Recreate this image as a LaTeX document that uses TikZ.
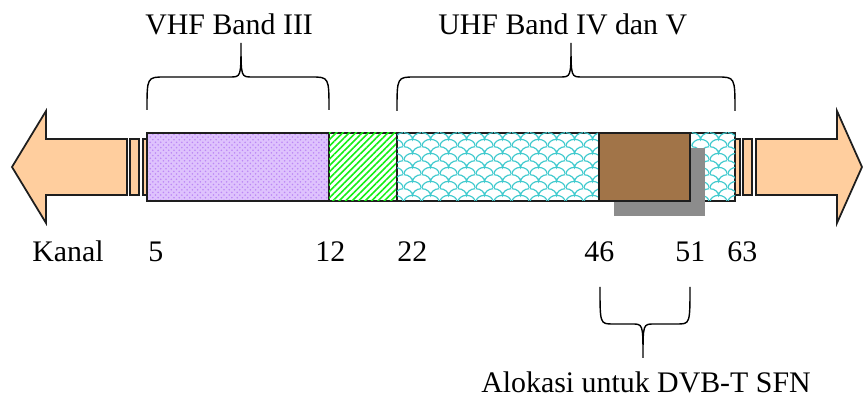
\documentclass[tikz,border=0pt]{standalone}
\usepackage{fontspec}
\setmainfont{Liberation Serif}
\usetikzlibrary{calc, arrows, patterns, patterns.meta, positioning}

\definecolor{cPeach}{RGB}{255,206,158}
\definecolor{cLavender}{RGB}{222,194,253}
\definecolor{cLavenderDot}{RGB}{188,136,245}
\definecolor{cHatchGreen}{RGB}{20,240,20}
\definecolor{cScaleCyan}{RGB}{64,202,206}
\definecolor{cBrown}{RGB}{161,116,72}
\definecolor{cShadow}{RGB}{140,140,140}
\definecolor{cEdge}{RGB}{30,30,30}

% fish scales for the UHF part of the band
\pgfdeclarepatternformonly{scales}{\pgfpointorigin}{\pgfpoint{10pt}{8pt}}{\pgfpoint{10pt}{8pt}}{
    \pgfsetlinewidth{0.7pt}
    \pgfpathmoveto{\pgfpoint{0pt}{0pt}}
    \pgfpathcurveto{\pgfpoint{0pt}{2.2pt}}{\pgfpoint{2.24pt}{4pt}}{\pgfpoint{5pt}{4pt}}
    \pgfpathcurveto{\pgfpoint{7.76pt}{4pt}}{\pgfpoint{10pt}{2.2pt}}{\pgfpoint{10pt}{0pt}}
    \pgfpathmoveto{\pgfpoint{0pt}{8pt}}
    \pgfpathcurveto{\pgfpoint{2.76pt}{8pt}}{\pgfpoint{5pt}{5.8pt}}{\pgfpoint{5pt}{4pt}}
    \pgfpathcurveto{\pgfpoint{5pt}{5.8pt}}{\pgfpoint{7.24pt}{8pt}}{\pgfpoint{10pt}{8pt}}
    \pgfusepath{stroke}
}

\begin{document}
\begin{tikzpicture}[x=0.02cm, y=-0.02cm,
    edgeLine/.style={draw=cEdge, line width=1pt},
    braceLine/.style={draw=black, line width=0.8pt},
    bandLabel/.style={inner sep=0pt, font=\fontsize{17}{20}\selectfont}]

\useasboundingbox (0,0) rectangle (863,398);

\newcommand{\drawCurlyBrace}[7]{
    \coordinate (cLeftPt) at (#1,#4);
    \coordinate (cRightPt) at (#2,#4);
    \coordinate (cTipPt) at (#3,#6);
    \draw[braceLine] (cLeftPt) .. controls (#1,#5) .. (#1+#7,#5) -- (#3-11,#5)
        .. controls (#3,#5) .. (cTipPt) .. controls (#3,#5) .. (#3+11,#5)
        -- (#2-#7,#5) .. controls (#2,#5) .. (cRightPt);
}

% arrows on both sides
\draw[edgeLine, fill=cPeach] (12,167) -- (46,111) -- (46,139) -- (127,139)
    -- (127,195) -- (46,195) -- (46,223) -- cycle;
\draw[edgeLine, fill=cPeach] (130,139) rectangle (139,195);
\draw[edgeLine, fill=cPeach] (143,139) rectangle (152,195);

\draw[edgeLine, fill=cPeach] (862,167) -- (837,111) -- (837,139) -- (756,139)
    -- (756,195) -- (837,195) -- (837,223) -- cycle;
\draw[edgeLine, fill=cPeach] (743,139) rectangle (752,195);
\draw[edgeLine, fill=cPeach] (730,139) rectangle (740,195);

% the band
\draw[edgeLine, preaction={fill=cLavender}, pattern=crosshatch dots, pattern color=cLavenderDot]
    (147,133) rectangle (329,201);
\draw[edgeLine, fill=white,
      postaction={pattern={Lines[angle=45, distance=2.6pt, line width=0.9pt]}, pattern color=cHatchGreen}]
    (329,133) rectangle (397,201);
\draw[edgeLine, fill=white, postaction={pattern=scales, pattern color=cScaleCyan}]
    (397,133) rectangle (735,201);

\fill[cShadow] (614,148) rectangle (705,216);
\draw[edgeLine, fill=cBrown] (599,133) rectangle (690,201);

% braces
\drawCurlyBrace{147}{329}{241}{110}{77}{43}{18}
\drawCurlyBrace{397}{735}{571}{111}{77}{43}{18}
\drawCurlyBrace{600}{690}{643}{287}{324}{358}{13}

% labels
\node[bandLabel, anchor=base west] (nVhfTxt) at (145,35) {VHF Band III};
\node[bandLabel, anchor=base west] (nUhfTxt) at (438,35) {UHF Band IV dan V};
\node[bandLabel, anchor=base west] (nKanalTxt) at (32,262) {Kanal};
\foreach \x/\k in {148/5, 315/12, 397/22, 584/46, 675/51, 727/63}
{
    \node[bandLabel, anchor=base west] (nCh\k) at (\x,262) {\k};
}
\node[bandLabel, anchor=base] (nSfnTxt) at (646,393) {Alokasi untuk DVB-T SFN};

\end{tikzpicture}
\end{document}
